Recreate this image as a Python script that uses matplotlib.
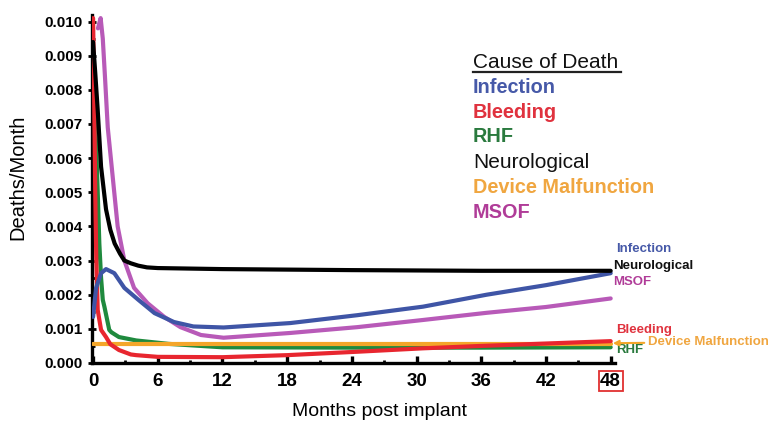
import matplotlib
matplotlib.use('Agg')
import matplotlib.pyplot as plt
from matplotlib.ticker import FixedLocator, FormatStrFormatter
from matplotlib.lines import Line2D

plt.rcParams['font.family'] = ['Liberation Sans', 'DejaVu Sans']

# Hazard curves (months post implant, deaths/month)
neuro_m = [0, 0.2, 0.43, 0.74, 1.2, 1.6, 2.0, 2.5, 2.9, 3.5, 4.2, 5, 6, 12, 24, 36, 48]
neuro_v = [0.0094, 0.0085, 0.0074, 0.00575, 0.0045, 0.0039, 0.0035, 0.0032, 0.0030,
           0.00292, 0.00285, 0.0028, 0.00278, 0.00275, 0.00272, 0.0027, 0.0027]

msof_m = [0.45, 0.7, 0.9, 1.1, 1.36, 1.82, 2.28, 2.9, 3.8, 5.06, 6.6, 8.1, 10, 12.1,
          18.3, 24.5, 30.6, 36.5, 42, 48]
msof_v = [0.0098, 0.0101, 0.0095, 0.0084, 0.0069, 0.00545, 0.0040, 0.0030, 0.0022,
          0.00175, 0.00135, 0.00105, 0.00082, 0.00074, 0.00088, 0.00105, 0.00126,
          0.00147, 0.00164, 0.00189]

infect_m = [0, 0.28, 0.74, 1.2, 1.97, 2.9, 4.2, 5.7, 7.5, 9.3, 12.1, 18.3, 24.5, 30.6,
            36.5, 42, 48]
infect_v = [0.00135, 0.0022, 0.00263, 0.00275, 0.00263, 0.0022, 0.00185, 0.00146,
            0.0012, 0.00107, 0.00104, 0.00117, 0.0014, 0.00165, 0.0020, 0.00228, 0.00263]

bleed_m = [0, 0.1, 0.2, 0.3, 0.43, 0.74, 1.2, 1.6, 2.4, 3.5, 4, 6, 12, 18, 24.5, 30.6,
           36, 42, 48]
bleed_v = [0.0101, 0.0078, 0.0050, 0.0030, 0.00155, 0.00097, 0.00076, 0.00055,
           0.00038, 0.00025, 0.00023, 0.00018, 0.00017, 0.00023, 0.00033, 0.00043,
           0.0005, 0.00057, 0.00064]

rhf_m = [0, 0.28, 0.43, 0.58, 0.74, 0.9, 1.05, 1.5, 1.7, 2.4, 4, 7, 12, 24, 36, 48]
rhf_v = [0.00805, 0.0064, 0.0050, 0.0035, 0.0025, 0.00185, 0.00165, 0.00097, 0.0009,
         0.00076, 0.00066, 0.00056, 0.00046, 0.00045, 0.00045, 0.00046]

device_m = [0, 48]
device_v = [0.00057, 0.00057]

causes = ['Infection', 'Bleeding', 'RHF', 'Neurological', 'Device Malfunction', 'MSOF']
colors = {'Infection': '#3f55a6', 'Bleeding': '#e8262f', 'RHF': '#1f8a3e',
          'Neurological': '#000000', 'Device Malfunction': '#f4a62a', 'MSOF': '#b85ab8'}
text_colors = {'Infection': '#4659a8', 'Bleeding': '#e0323e', 'RHF': '#2a7a3e',
               'Neurological': '#111111', 'Device Malfunction': '#f0a640', 'MSOF': '#b03c98'}

x_ticks = [0, 6, 12, 18, 24, 30, 36, 42, 48]
y_ticks = [0.000, 0.001, 0.002, 0.003, 0.004, 0.005, 0.006, 0.007, 0.008, 0.009, 0.010]

W, H = 773, 424
fig = plt.figure(figsize=(W / 100, H / 100), dpi=100)
ax = fig.add_axes([92 / W, 1 - 363 / H, 523 / W, 348.3 / H])

lw = 3.0
line_kw = dict(lw=lw, solid_joinstyle='round', solid_capstyle='round')
ax.plot(device_m, device_v, color=colors['Device Malfunction'], zorder=3, **line_kw)
ax.plot(rhf_m, rhf_v, color=colors['RHF'], zorder=2, **line_kw)
ax.plot(bleed_m, bleed_v, color=colors['Bleeding'], zorder=4, **line_kw)
ax.plot(msof_m, msof_v, color=colors['MSOF'], zorder=5, **line_kw)
ax.plot(infect_m, infect_v, color=colors['Infection'], zorder=6, **line_kw)
ax.plot(neuro_m, neuro_v, color=colors['Neurological'], zorder=7, **line_kw)

ax.set_xlim(-0.1, 48.4)
ax.set_ylim(0, 0.0102)
ax.xaxis.set_major_locator(FixedLocator(x_ticks))
ax.xaxis.set_minor_locator(FixedLocator([t + 3 for t in x_ticks[:-1]]))
ax.yaxis.set_major_locator(FixedLocator(y_ticks))
ax.yaxis.set_minor_locator(FixedLocator([t + 0.0005 for t in y_ticks[:-1]]))
ax.yaxis.set_major_formatter(FormatStrFormatter('%.3f'))

for s in ['top', 'right']:
    ax.spines[s].set_visible(False)
for s in ['left', 'bottom']:
    ax.spines[s].set_linewidth(2.4)

ax.tick_params(axis='x', which='major', direction='in', length=5, width=2.4,
               labelsize=13.5, pad=7)
ax.tick_params(axis='x', which='minor', direction='in', length=2.5, width=2)
ax.tick_params(axis='y', which='major', direction='inout', length=6, width=2,
               labelsize=11, pad=4)
ax.tick_params(axis='y', which='minor', direction='in', length=2.5, width=2)
for lab in ax.get_xticklabels() + ax.get_yticklabels():
    lab.set_fontweight('bold')
ax.get_xticklabels()[-1].set_bbox(dict(facecolor='none', edgecolor='#e03030',
                                       linewidth=1.3, pad=1.2))

ax.set_xlabel('Months post implant', fontsize=14)
ax.xaxis.set_label_coords((379 - 92) / 523, -0.115)
ax.set_ylabel('Deaths/Month', fontsize=14.5)
ax.yaxis.set_label_coords(-0.124, 0.534)

# End-of-curve labels
end_labels = [('Infection', 48.5, 0.00334), ('Neurological', 48.2, 0.00285),
              ('MSOF', 48.2, 0.00237), ('Bleeding', 48.5, 0.00097),
              ('RHF', 48.5, 0.00037)]
for name, x, y in end_labels:
    ax.text(x, y, name, color=text_colors[name], fontsize=9.5, fontweight='bold',
            va='center', ha='left', clip_on=False)
ax.annotate('Device Malfunction', xy=(48.2, 0.00058), xytext=(51.5, 0.00061),
            color=text_colors['Device Malfunction'], fontsize=9.5, fontweight='bold',
            va='center', ha='left', annotation_clip=False,
            arrowprops=dict(arrowstyle='-|>', color=colors['Device Malfunction'],
                            lw=1.5, mutation_scale=8, shrinkA=1, shrinkB=0))

# Legend block
lx = 473
fig.text(lx / W, 1 - 68.3 / H, 'Cause of Death', fontsize=15, color='#111111',
         va='baseline', ha='left')
fig.add_artist(Line2D([lx / W, 621 / W], [1 - 72 / H, 1 - 72 / H], color='#222222', lw=1.6))
baselines = [93.3, 118.3, 142.5, 168, 193, 218]
for name, yb in zip(causes, baselines):
    weight = 'normal' if name == 'Neurological' else 'bold'
    size = 15 if name == 'Neurological' else 14.3
    fig.text(lx / W, 1 - yb / H, name, fontsize=size, fontweight=weight,
             color=text_colors[name], va='baseline', ha='left')

fig.savefig('out.png', dpi=100)
